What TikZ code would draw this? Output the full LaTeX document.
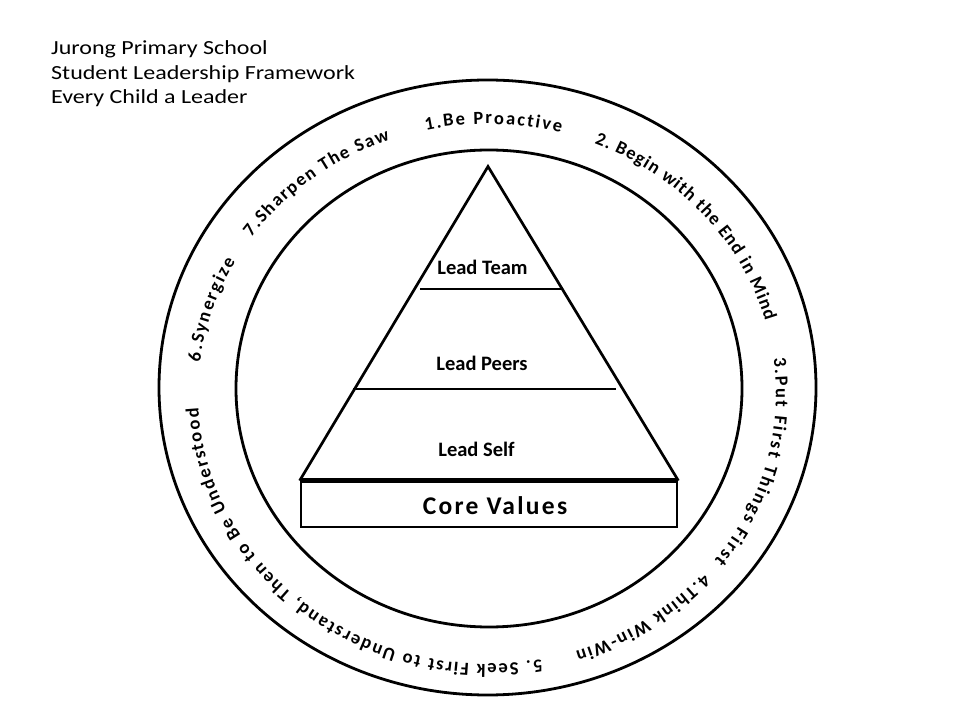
\documentclass[tikz,border=0pt]{standalone}
\usepackage{fontspec}
\usepackage{graphicx}
\setmainfont{Carlito}
\usetikzlibrary{decorations.text}

% fonts
\newcommand\ringfont{\fontsize{18.5}{22}\selectfont\bfseries}
\newcommand\tierfont{\fontsize{20.5}{24}\selectfont\bfseries}
\newcommand\corefont{\fontsize{25.5}{29}\selectfont\bfseries\addfontfeature{LetterSpace=9}}
\newcommand\headfont{\fontsize{20}{24}\selectfont}

\begin{document}
\begin{tikzpicture}[x=1pt,y=1pt,
  ring/.style={line width=2.8pt},
  pyr/.style={line width=2.7pt, line join=miter},
  tier/.style={line width=1.1pt},
  tierlabel/.style={font=\tierfont, inner sep=0pt},
  heading/.style={font=\headfont, anchor=base west, inner sep=0pt},
  ringtext/.style={decorate, decoration={text along path, text={#1}, text align={fit to path}}}]

% canvas
\useasboundingbox (0,0) rectangle (960,720);
\fill[white] (0,0) rectangle (960,720);

% heading
\node[heading] (head1) at (51,665) {\scalebox{1.2}[1]{Jurong Primary School}};
\node[heading] (head2) at (51,640.7) {\scalebox{1.2}[1]{Student Leadership Framework}};
\node[heading] (head3) at (51,616.3) {\scalebox{1.2}[1]{Every Child a Leader}};

% outer and inner rings
\coordinate (outerc) at (487.5,332.5);
\coordinate (innerc) at (489,331.5);
\coordinate (textc) at (487,326);
\draw[ring] (outerc) ellipse [x radius=328.5, y radius=307.5];
\draw[ring] (innerc) ellipse [x radius=253, y radius=238.5];

% the seven habits around the ring (clockwise, tops outward)
\path[ringtext={|\ringfont|1.Be Proactive}]
  (textc) ++(102.2:289 and 270) arc[start angle=102.2, end angle=75.2, x radius=289, y radius=270];
\path[ringtext={|\ringfont|2. Begin with the End in Mind}]
  (textc) ++(68.2:289 and 270) arc[start angle=68.2, end angle=15.7, x radius=289, y radius=270];
\path[ringtext={|\ringfont|3.Put First Things First}]
  (textc) ++(7.6:289 and 270) arc[start angle=7.6, end angle=-38.1, x radius=289, y radius=270];
\path[ringtext={|\ringfont|4.Think Win-Win}]
  (textc) ++(-41.6:289 and 270) arc[start angle=-41.6, end angle=-72.2, x radius=289, y radius=270];
\path[ringtext={|\ringfont|5. Seek First to Understand, Then to Be Understood}]
  (textc) ++(-79.1:289 and 270) arc[start angle=-79.1, end angle=-177, x radius=289, y radius=270];
\path[ringtext={|\ringfont|6.Synergize}]
  (textc) ++(173.2:289 and 270) arc[start angle=173.2, end angle=150.5, x radius=289, y radius=270];
\path[ringtext={|\ringfont|7.Sharpen The Saw}]
  (textc) ++(144.6:289 and 270) arc[start angle=144.6, end angle=109.6, x radius=289, y radius=270];

% pyramid
\node[draw, line width=2.7pt, minimum width=376pt, minimum height=45pt, inner sep=0pt] (core) at (489,215.5) {};
\coordinate (apex) at (488,553.5);
\draw[pyr] (core.north west) -- (apex) -- (core.north east);
\draw[line width=4.6pt] (core.north west) -- (core.north east);

% tier dividers
\coordinate (teamL) at (420,431);
\coordinate (teamR) at (561,431);
\coordinate (peersL) at (353,331);
\coordinate (peersR) at (616,331);
\draw[tier] (teamL) -- (teamR);
\draw[tier] (peersL) -- (peersR);

% tier labels
\node[tierlabel] (team) at (482.5,453) {Lead Team};
\node[tierlabel] (peers) at (482,357) {Lead Peers};
\node[tierlabel] (self) at (476.5,271) {Lead Self};
\node[inner sep=0pt, font=\corefont] (corelabel) at (495,214) {Core Values};
\end{tikzpicture}
\end{document}
